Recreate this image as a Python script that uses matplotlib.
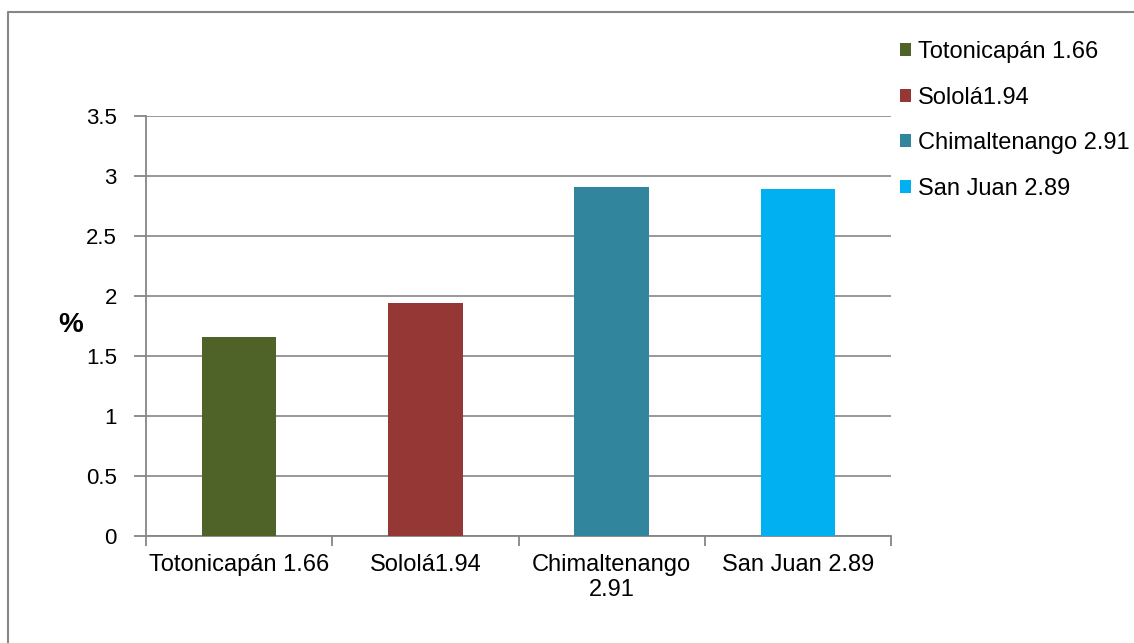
import matplotlib
matplotlib.use("Agg")
import matplotlib.pyplot as plt
from matplotlib.lines import Line2D
from matplotlib.patches import Patch

categories = ["Totonicapán 1.66", "Sololá1.94", "Chimaltenango\n2.91", "San Juan 2.89"]
legend_labels = ["Totonicapán 1.66", "Sololá1.94", "Chimaltenango 2.91", "San Juan 2.89"]
values = [1.66, 1.94, 2.91, 2.89]
colors = ["#4F6228", "#953735", "#31859C", "#00B0F0"]
yticks = [0, 0.5, 1, 1.5, 2, 2.5, 3, 3.5]

plt.rcParams['font.family'] = ['Liberation Sans', 'DejaVu Sans']
grid_c = "#868686"

fig = plt.figure(figsize=(11.34, 6.43), dpi=100)
ax = fig.add_axes([146/1134, 1-536/643, 745/1134, 420/643])

x = list(range(len(values)))
ax.bar(x, values, width=0.4, color=colors, zorder=3)

ax.set_xlim(-0.5, 3.5)
ax.set_ylim(0, 3.5)
ax.set_yticks(yticks)
ax.set_yticklabels([f"{t:g}" for t in yticks])
ax.tick_params(axis='y', length=9, width=1.3, color=grid_c, pad=12, labelsize=16)
ax.grid(axis='y', color=grid_c, linewidth=1.2, zorder=0)

ax.set_xticks([-0.5, 0.5, 1.5, 2.5, 3.5])
ax.set_xticklabels([])
ax.tick_params(axis='x', which='major', length=7, width=1.3, color=grid_c, direction='out')
ax.set_xticks(x, minor=True)
ax.set_xticklabels(categories, minor=True, linespacing=1.15)
ax.tick_params(axis='x', which='minor', length=0, pad=13, labelsize=17)

for s in ['top', 'right']:
    ax.spines[s].set_visible(False)
for s in ['left', 'bottom']:
    ax.spines[s].set_color(grid_c)
    ax.spines[s].set_linewidth(1.3)

ax.set_ylabel('%', rotation=0, fontsize=20, fontweight='bold', ha='center', va='center')
ax.yaxis.set_label_coords(-0.1007, 0.502)

handles = [Patch(facecolor=c, edgecolor='none') for c in colors]
fig.legend(handles, legend_labels, loc='upper left', bbox_to_anchor=(900/1134, 1-41/643),
           frameon=False, fontsize=17, handlelength=0.47, handleheight=0.47,
           handletextpad=0.3, labelspacing=1.0, borderpad=0, borderaxespad=0)

# outer frame (left and top edges visible)
fig.add_artist(Line2D([8/1134, 8/1134, 1.0], [0.0, 1-12/643, 1-12/643],
                      transform=fig.transFigure, color=grid_c, linewidth=1.5))

fig.savefig("out.png", dpi=100, facecolor='white')
